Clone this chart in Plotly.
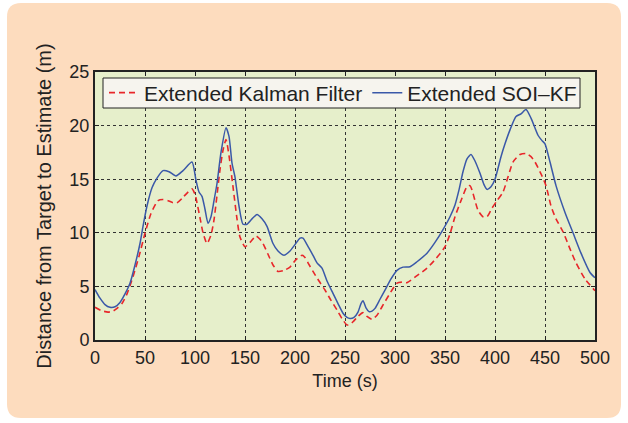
import plotly.graph_objects as go

# ---- data ----
t_soi = [0, 5, 10, 15, 20, 25, 30, 35, 40, 45, 48, 52, 57, 62, 68, 74, 81, 88, 97, 101,
         104, 107, 110, 113, 116, 119, 122, 126, 131, 134, 137, 140, 144, 148, 152, 157,
         162, 167, 172, 178, 183, 189, 195, 200, 205, 208, 212, 218, 222, 227, 232, 238,
         243, 248, 252, 255, 259, 263, 266, 268, 271, 274, 277, 280, 285, 290, 296, 302,
         308, 315, 322, 332, 340, 348, 355, 360, 364, 368, 372, 376, 380, 385, 389, 392,
         396, 400, 406, 410, 415, 421, 426, 431, 436, 443, 447, 450, 455, 461, 470, 478,
         486, 495, 500]
d_soi = [4.7, 3.9, 3.3, 3.05, 3.1, 3.5, 4.3, 5.3, 7.0, 9.0, 10.6, 12.5, 14.2, 15.1, 15.8,
         15.7, 15.3, 15.8, 16.6, 14.9, 13.8, 13.4, 12.2, 10.9, 11.5, 13.0, 14.6, 17.5, 19.8,
         19.0, 16.5, 15.2, 12.5, 10.8, 10.8, 11.3, 11.7, 11.3, 10.6, 9.0, 8.3, 7.9, 8.3, 8.9,
         9.5, 9.5, 8.9, 7.9, 7.2, 6.7, 5.5, 4.35, 3.4, 2.5, 2.1, 2.0, 2.1, 2.6, 3.4, 3.67,
         3.0, 2.65, 2.7, 2.95, 3.8, 4.66, 5.7, 6.5, 6.8, 6.84, 7.3, 8.1, 9.1, 10.3, 11.5,
         12.6, 14.0, 15.7, 16.9, 17.3, 16.7, 15.55, 14.5, 14.05, 14.3, 15.0, 17.1, 18.3,
         19.6, 20.85, 21.1, 21.5, 20.7, 19.1, 18.6, 18.3, 16.6, 14.4, 11.9, 10.0, 8.1, 6.3,
         5.8]

t_ekf = [0, 6, 13, 18, 22, 27, 32, 38, 44, 50, 56, 63, 68, 73, 78, 82, 88, 93, 97, 100,
         102, 105, 108, 112, 116, 119, 122, 125, 128, 131, 134, 138, 142, 145, 150, 155,
         161, 165, 168, 173, 178, 183, 189, 195, 201, 207, 210, 213, 218, 224, 230, 236,
         242, 247, 252, 255, 258, 263, 268, 272, 277, 282, 287, 294, 302, 307, 312, 322,
         332, 341, 350, 355, 360, 366, 372, 375, 377, 380, 383, 388, 392, 397, 402, 408,
         413, 418, 425, 431, 436, 440, 446, 451, 456, 461, 468, 475, 481, 490, 500]
d_ekf = [3.05, 2.75, 2.6, 2.7, 2.95, 3.4, 4.3, 5.9, 7.8, 9.95, 11.8, 13.0, 13.1, 13.0,
         12.8, 12.8, 13.3, 13.8, 14.1, 13.6, 12.8, 11.4, 10.0, 9.0, 9.8, 11.2, 13.5, 15.9,
         17.7, 18.7, 17.2, 14.3, 11.3, 9.6, 8.7, 9.1, 9.7, 9.4, 9.0, 8.0, 7.0, 6.4, 6.5,
         6.8, 7.5, 7.9, 7.7, 7.2, 6.4, 5.5, 4.66, 3.7, 2.8, 2.0, 1.4, 1.45, 1.7, 2.2, 2.55,
         2.2, 1.93, 2.3, 3.1, 4.2, 5.3, 5.4, 5.35, 6.0, 6.7, 7.6, 8.7, 9.9, 11.5, 13.0,
         14.3, 14.4, 14.0, 13.0, 12.1, 11.5, 11.5, 12.3, 13.0, 13.8, 15.2, 16.6, 17.3, 17.4,
         17.1, 16.6, 15.5, 14.4, 12.5, 11.3, 10.1, 8.5, 7.2, 5.7, 4.6]

x_ticks = [0, 50, 100, 150, 200, 250, 300, 350, 400, 450, 500]
y_ticks = [0, 5, 10, 15, 20, 25]
series_names = ["Extended Kalman Filter", "Extended SOI\u2013KF"]

# ---- figure ----
W, H = 628, 423
L, R, T, B = 95, 33, 72, 83
pw, ph = W - L - R, H - T - B

def px(x):
    return (x - L) / pw

def py(y):
    return (H - B - y) / ph

def rounded(x0, y0, x1, y1, r):
    a, b, c, d = px(x0), py(y0), px(x1), py(y1)
    rx, ry = r / pw, r / ph
    return (f"M{a+rx},{b} L{c-rx},{b} Q{c},{b} {c},{b-ry} L{c},{d+ry} "
            f"Q{c},{d} {c-rx},{d} L{a+rx},{d} Q{a},{d} {a},{d+ry} "
            f"L{a},{b-ry} Q{a},{b} {a+rx},{b} Z")

fig = go.Figure()
fig.add_trace(go.Scatter(x=t_ekf, y=d_ekf, mode="lines", name=series_names[0],
                         line=dict(color="#E8262A", width=1.6, dash="6px,4px",
                                   shape="spline", smoothing=0.6)))
fig.add_trace(go.Scatter(x=t_soi, y=d_soi, mode="lines", name=series_names[1],
                         line=dict(color="#3A58A8", width=1.5,
                                   shape="spline", smoothing=0.6)))

font = "Liberation Sans, Arial, sans-serif"
axis_common = dict(
    showline=True, linecolor="#222222", linewidth=2, mirror="ticks",
    ticks="inside", ticklen=4, tickcolor="#222222", tickwidth=1,
    showgrid=True, gridcolor="#333333", gridwidth=1, griddash="3px,3px",
    zeroline=False, tickfont=dict(family=font, size=18, color="#222222"),
)

fig.update_layout(
    width=W, height=H,
    margin=dict(l=L, r=R, t=T, b=B),
    paper_bgcolor="white", plot_bgcolor="rgba(0,0,0,0)",
    font=dict(family=font, color="#222222"),
    xaxis=dict(range=[0, 500], tickvals=x_ticks,
               title=dict(text="Time (s)", font=dict(size=18), standoff=8),
               **axis_common),
    yaxis=dict(range=[0, 25], tickvals=y_ticks,
               title=dict(text="Distance from Target to Estimate (m)",
                          font=dict(size=20), standoff=12),
               **axis_common),
    legend=dict(x=px(104), y=py(93), xanchor="left", yanchor="middle",
                orientation="h", bgcolor="rgba(0,0,0,0)", borderwidth=0,
                font=dict(size=21, family=font, color="#222222"),
                itemwidth=30, tracegroupgap=0),
    shapes=[
        dict(type="path", xref="paper", yref="paper", layer="below",
             path=rounded(7, 3, 621, 418, 14), fillcolor="#FDDCBE", line=dict(width=0)),
        dict(type="rect", xref="paper", yref="paper", layer="below",
             x0=0, x1=1, y0=0, y1=1, fillcolor="#E6EFCB", line=dict(width=0)),
        dict(type="rect", xref="paper", yref="paper", layer="above",
             x0=px(103), x1=px(580), y0=py(108), y1=py(78),
             fillcolor="#F6F4EE", line=dict(color="#222222", width=1)),
    ],
)

fig.write_html("out.html", config={"displayModeBar": False},
               post_script="document.body.style.margin='0px';document.body.style.overflow='hidden';")
